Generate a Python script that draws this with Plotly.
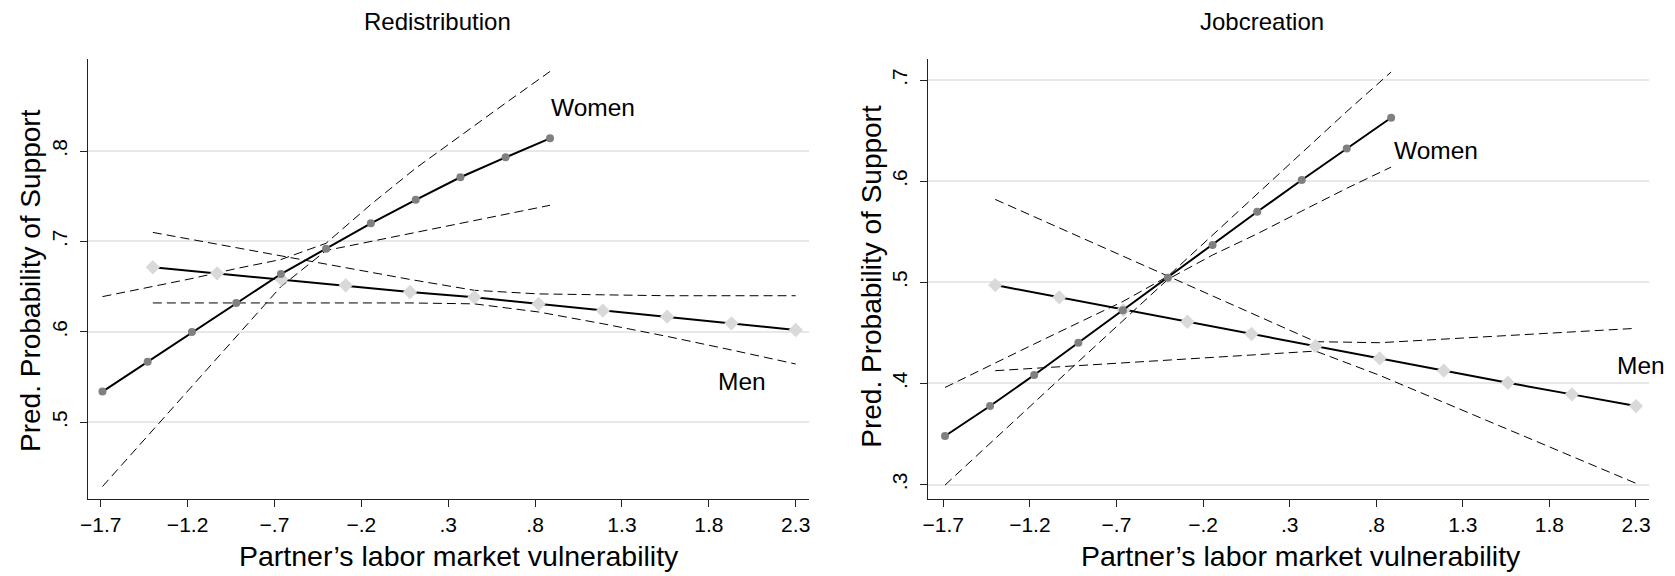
import plotly.graph_objects as go

# ---------------- data ----------------
women_x = [-1.69, -1.43, -1.175, -0.92, -0.663, -0.403, -0.145, 0.113, 0.37, 0.63, 0.886]
men_x = [-1.40, -1.03, -0.66, -0.29, 0.08, 0.45, 0.82, 1.19, 1.56, 1.93, 2.30]

# Redistribution
red_women = [0.534, 0.567, 0.600, 0.632, 0.664, 0.692, 0.720, 0.746, 0.771, 0.793, 0.814]
red_women_hi = [0.639, 0.649, 0.659, 0.670, 0.680, 0.698, 0.741, 0.781, 0.817, 0.853, 0.888]
red_women_lo = [0.429, 0.485, 0.539, 0.595, 0.650, 0.690, 0.700, 0.710, 0.720, 0.730, 0.740]
red_men = [0.6715, 0.6648, 0.6582, 0.6515, 0.6441, 0.6383, 0.6309, 0.6235, 0.6168, 0.6095, 0.6021]
red_men_hi = [0.710, 0.697, 0.684, 0.671, 0.658, 0.646, 0.642, 0.641, 0.640, 0.640, 0.640]
red_men_lo = [0.632, 0.632, 0.632, 0.632, 0.632, 0.631, 0.622, 0.609, 0.595, 0.580, 0.5645]

# Jobcreation
job_women = [0.348, 0.3777, 0.4083, 0.4403, 0.4725, 0.5046, 0.5369, 0.5698, 0.6012, 0.6325, 0.6628]
job_women_hi = [0.396, 0.418, 0.439, 0.460, 0.481, 0.506, 0.547, 0.587, 0.628, 0.669, 0.708]
job_women_lo = [0.2995, 0.341, 0.381, 0.4215, 0.462, 0.503, 0.527, 0.548, 0.5705, 0.593, 0.614]
job_men = [0.4973, 0.4852, 0.4726, 0.461, 0.4489, 0.437, 0.4248, 0.4126, 0.4007, 0.3892, 0.3776]
job_men_hi = [0.582, 0.5538, 0.5254, 0.4971, 0.4693, 0.4413, 0.4403, 0.444, 0.447, 0.451, 0.4545]
job_men_lo = [0.4126, 0.4164, 0.4204, 0.4242, 0.4281, 0.432, 0.408, 0.3813, 0.3546, 0.3279, 0.3012]

x_tickvals = [-1.7, -1.2, -0.7, -0.2, 0.3, 0.8, 1.3, 1.8, 2.3]
x_ticktext = ["\u22121.7", "\u22121.2", "\u2212.7", "\u2212.2", ".3", ".8", "1.3", "1.8", "2.3"]
red_yvals = [0.5, 0.6, 0.7, 0.8]
red_ytext = [".5", ".6", ".7", ".8"]
job_yvals = [0.3, 0.4, 0.5, 0.6, 0.7]
job_ytext = [".3", ".4", ".5", ".6", ".7"]

panel_titles = ["Redistribution", "Jobcreation"]
x_title = "Partner\u2019s labor market vulnerability"
y_title = "Pred. Probability of Support"

FONT = "Liberation Sans, Arial, Helvetica, sans-serif"
W, H = 1675, 576

fig = go.Figure()

def add_panel(xa, ya, w, wh, wl, m, mh, ml):
    dash = dict(color="black", width=1, dash="9px,5px")
    for xs, ys in [(women_x, wh), (women_x, wl), (men_x, mh), (men_x, ml)]:
        fig.add_trace(go.Scatter(x=xs, y=ys, mode="lines", line=dash,
                                 xaxis=xa, yaxis=ya, showlegend=False, hoverinfo="skip"))
    fig.add_trace(go.Scatter(x=men_x, y=m, mode="lines+markers",
                             line=dict(color="black", width=2),
                             marker=dict(symbol="diamond", size=11, color="#d9d9d9"),
                             xaxis=xa, yaxis=ya, showlegend=False))
    fig.add_trace(go.Scatter(x=women_x, y=w, mode="lines+markers",
                             line=dict(color="black", width=2),
                             marker=dict(symbol="circle", size=8, color="#808080"),
                             xaxis=xa, yaxis=ya, showlegend=False))

add_panel("x", "y", red_women, red_women_hi, red_women_lo, red_men, red_men_hi, red_men_lo)
add_panel("x2", "y2", job_women, job_women_hi, job_women_lo, job_men, job_men_hi, job_men_lo)

ydom = [1 - 499 / H, 1 - 58.7 / H]
common_x = dict(showgrid=False, zeroline=False, showline=True, linecolor="#222", linewidth=1.3,
                ticks="outside", ticklen=7, tickwidth=1.3, tickcolor="#222", automargin=False,
                tickvals=x_tickvals, ticktext=x_ticktext, ticklabelstandoff=0,
                tickfont=dict(family=FONT, size=21, color="black"))
common_y = dict(showgrid=True, gridcolor="#e8e8e8", gridwidth=1.5, zeroline=False,
                showline=True, linecolor="#222", linewidth=1.3, automargin=False,
                ticks="outside", ticklen=7, tickwidth=1.3, tickcolor="#222",
                tickangle=-90, ticklabelstandoff=4,
                tickfont=dict(family=FONT, size=21, color="black"))

fig.update_layout(
    template="none",
    width=W, height=H,
    margin=dict(l=0, r=0, t=0, b=0, pad=0, autoexpand=False),
    paper_bgcolor="white", plot_bgcolor="white",
    font=dict(family=FONT, color="black"),
    xaxis=dict(common_x, domain=[87.7 / W, 809 / W], range=[-1.775, 2.3765], anchor="y"),
    yaxis=dict(common_y, domain=ydom, range=[0.4152, 0.9021], anchor="x",
               tickvals=red_yvals, ticktext=red_ytext),
    xaxis2=dict(common_x, domain=[927.7 / W, 1649.3 / W], range=[-1.79, 2.377], anchor="y2"),
    yaxis2=dict(common_y, domain=ydom, range=[0.2857, 0.7212], anchor="x2",
                tickvals=job_yvals, ticktext=job_ytext),
)

ann = []
for txt, cx in zip(panel_titles, [437, 1262]):
    ann.append(dict(text=txt, x=cx / W, y=1 - 22 / H, xref="paper", yref="paper",
                    showarrow=False, font=dict(family=FONT, size=24, color="black"),
                    xanchor="center", yanchor="middle"))
for cx in [458.7, 1301]:
    ann.append(dict(text=x_title, x=cx / W, y=1 - 556 / H, xref="paper", yref="paper",
                    showarrow=False, font=dict(family=FONT, size=28.5, color="black"),
                    xanchor="center", yanchor="middle"))
for cx, cy in [(30, 281), (872, 276.7)]:
    ann.append(dict(text=y_title, x=cx / W, y=1 - cy / H, xref="paper", yref="paper",
                    textangle=-90, showarrow=False, font=dict(family=FONT, size=28, color="black"),
                    xanchor="center", yanchor="middle"))
labels = [("Women", 1.133, 0.8476, "x", "y"), ("Men", 1.988, 0.5449, "x", "y"),
          ("Women", 1.147, 0.6309, "x2", "y2"), ("Men", 2.327, 0.4182, "x2", "y2")]
for t, lx, ly, xr, yr in labels:
    ann.append(dict(text=t, x=lx, y=ly, xref=xr, yref=yr, showarrow=False,
                    font=dict(family=FONT, size=24.5, color="black"),
                    xanchor="center", yanchor="middle"))
fig.update_layout(annotations=ann)

fig.write_html("out.html", config={"displayModeBar": False},
               post_script="document.body.style.margin='0px';")
